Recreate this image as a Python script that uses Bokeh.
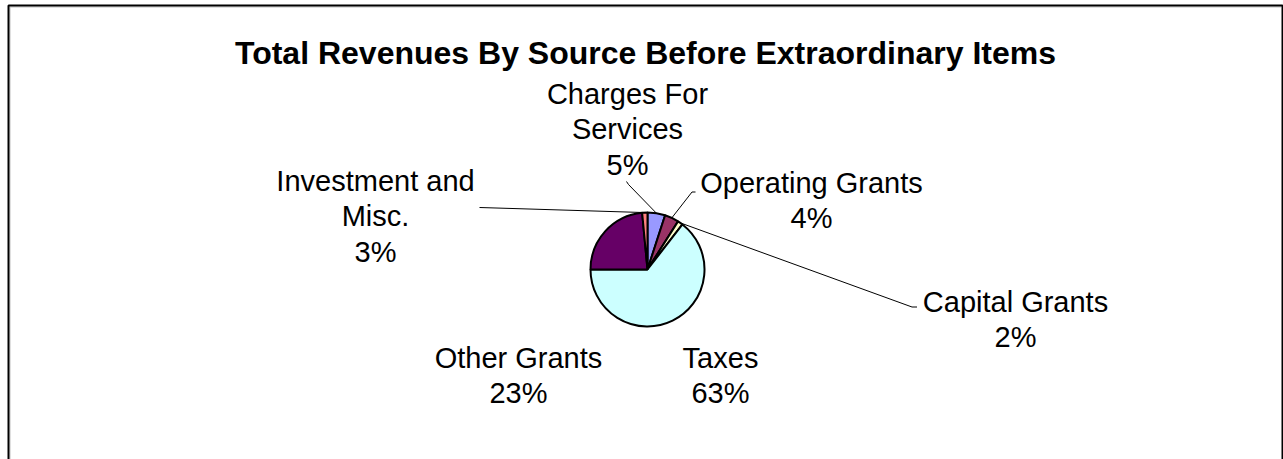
import math
from bokeh.plotting import figure
from bokeh.models import Range1d, ColumnDataSource
from bokeh.core.properties import value
from bokeh.embed import file_html
from bokeh.resources import INLINE

# ---- data ----
categories = ["Charges For Services", "Operating Grants", "Capital Grants",
              "Taxes", "Other Grants", "Investment and Misc."]
shares = [5.0, 4.0, 1.5, 64.5, 23.5, 1.5]          # slice sizes
pct_labels = ["5%", "4%", "2%", "63%", "23%", "3%"]  # printed percentages
label_lines = [["Charges For", "Services"], ["Operating Grants"], ["Capital Grants"],
               ["Taxes"], ["Other Grants"], ["Investment and", "Misc."]]
colors = ["#9999FF", "#993366", "#FFFFCC", "#CCFFFF", "#660066", "#FF8080"]
title = "Total Revenues By Source Before Extraordinary Items"

# ---- layout ----
W, H = 1283, 459
CX, CY, R = 647, 269, 57
FONT = "Liberation Sans"
LFS = 29
LH = 35.5
# label anchor: (center x, baseline of first line) in screen pixels
label_pos = [(627, 93), (811, 182), (1015, 301), (720, 357), (518, 357), (375, 180)]
# leader line: outer points (screen pixels), None = no leader
leaders = [[(626, 181), (628, 184)], [(695, 191.5), (691.5, 191.5)],
           [(916.5, 306.5), (911.5, 306.5)], None, None, [(479, 207)]]


def fy(py):
    return H - py


p = figure(width=W, height=H, output_backend="svg", toolbar_location=None,
           x_range=Range1d(0, W), y_range=Range1d(0, H), min_border=0,
           outline_line_color=None, background_fill_color="white",
           border_fill_color="white")
p.axis.visible = False
p.grid.visible = False

# frame
p.line([9.5, 9.5, 1280.5], [fy(459), fy(6.5), fy(6.5)], line_color="#c0c0c0", line_width=1)
p.line([8, 8, 1282, 1282], [fy(459), fy(5), fy(5), fy(459)], line_color="black", line_width=2)

# wedges
total = sum(shares)
starts, ends, mids = [], [], []
cum = 0.0
for s in shares:
    a0 = math.pi / 2 - 2 * math.pi * cum / total
    cum += s
    a1 = math.pi / 2 - 2 * math.pi * cum / total
    starts.append(a0)
    ends.append(a1)
    mids.append((a0 + a1) / 2)

src = ColumnDataSource(dict(start=starts, end=ends, color=colors, cat=categories))
p.wedge(x=CX, y=fy(CY), radius=R, start_angle="start", end_angle="end",
        direction="clock", fill_color="color", line_color="black", line_width=2,
        source=src)

# leader lines
for i, pts in enumerate(leaders):
    if pts is None:
        continue
    ex = CX + R * math.cos(mids[i])
    ey = fy(CY) + R * math.sin(mids[i])
    xs = [x for x, _ in pts] + [ex]
    ys = [fy(y) for _, y in pts] + [ey]
    p.line(xs, ys, line_color="black", line_width=1)

# labels
tx, ty, tt = [], [], []
for i, lines in enumerate(label_lines):
    x0, y0 = label_pos[i]
    for k, t in enumerate(lines + [pct_labels[i]]):
        tx.append(x0)
        ty.append(fy(y0 + k * LH))
        tt.append(t)
p.text(x=tx, y=ty, text=tt, text_font=value(FONT), text_font_size=f"{LFS}px",
       text_align="center", text_baseline="alphabetic", text_color="black")

# title
p.text(x=[645], y=[fy(52)], text=[title], text_font=value(FONT), text_font_size="32px",
       text_font_style="bold", text_align="center", text_baseline="alphabetic",
       text_color="black")

open("out.html", "w").write(file_html(p, INLINE))
